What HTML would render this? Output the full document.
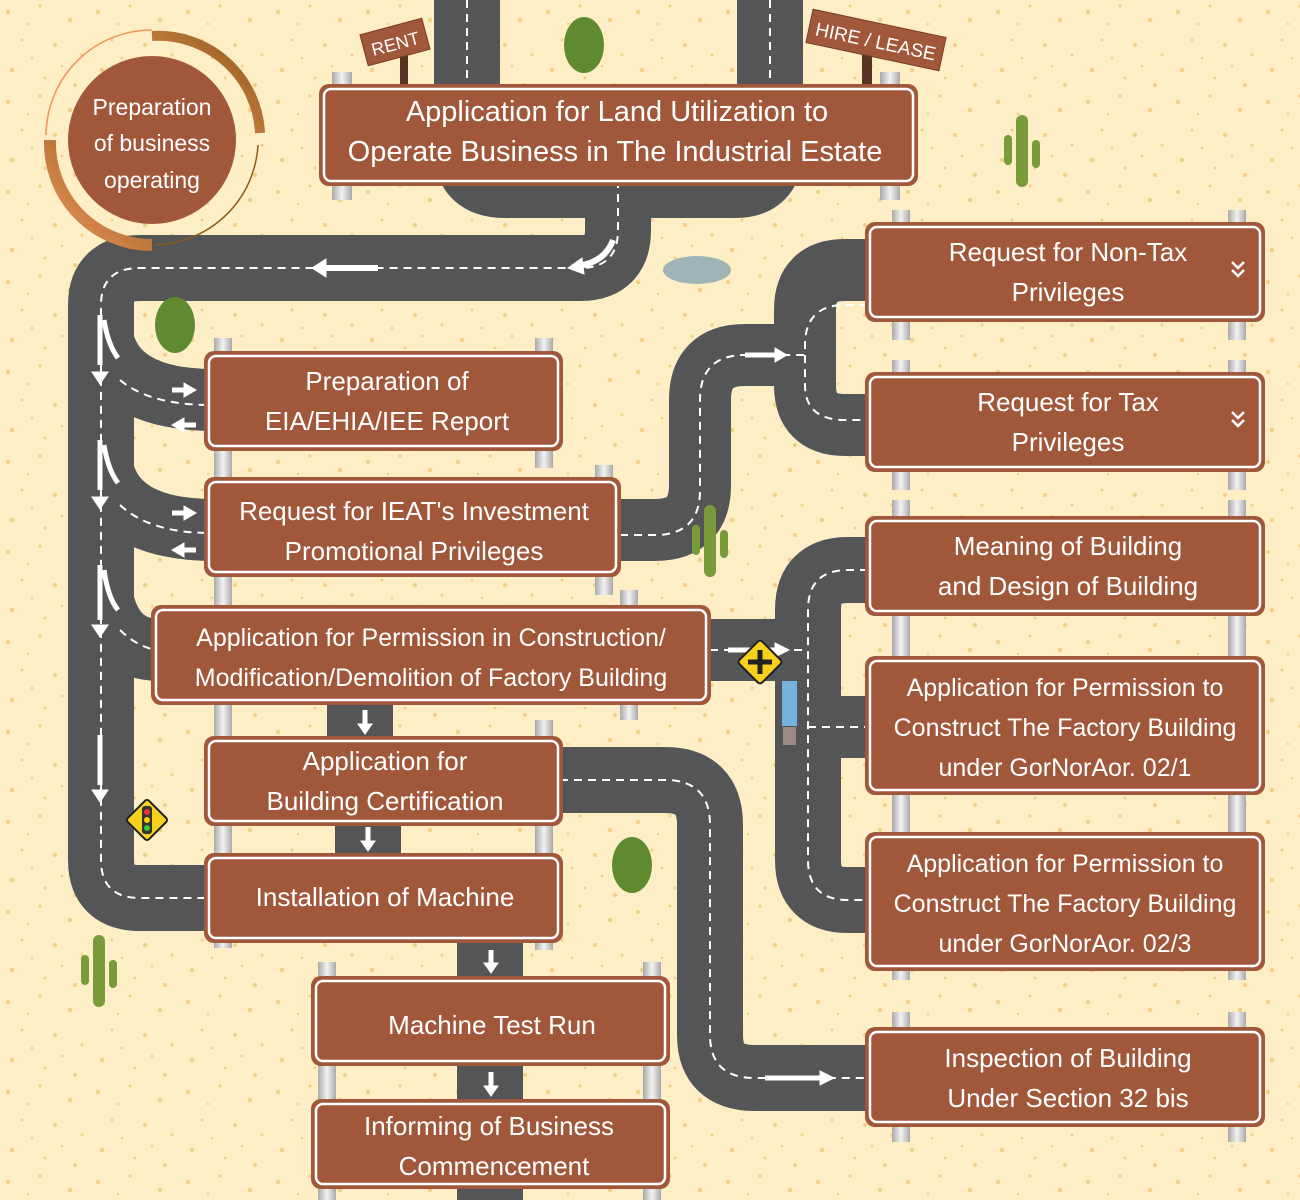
<!DOCTYPE html>
<html><head><meta charset="utf-8">
<style>
html,body{margin:0;padding:0;}
body{width:1300px;height:1200px;overflow:hidden;background:#fdeec6;}
svg{display:block;}
.t{font-family:"Liberation Sans",sans-serif;fill:#fff;text-anchor:middle;font-size:26px;}
</style></head><body>
<svg width="1300" height="1200" viewBox="0 0 1300 1200" xmlns="http://www.w3.org/2000/svg">
<defs>
<pattern id="sand" width="90" height="90" patternUnits="userSpaceOnUse">
<rect width="90" height="90" fill="#fdeec6"/>
<g fill="#f3cf85">
<circle cx="8" cy="12" r="2"/><circle cx="40" cy="6" r="1.6"/><circle cx="70" cy="20" r="2.2"/>
<circle cx="22" cy="40" r="1.5"/><circle cx="55" cy="45" r="2"/><circle cx="82" cy="55" r="1.6"/>
<circle cx="12" cy="70" r="2.2"/><circle cx="45" cy="78" r="1.5"/><circle cx="75" cy="85" r="2"/>
<circle cx="32" cy="58" r="1.3"/><circle cx="62" cy="66" r="1.3"/><circle cx="28" cy="24" r="1.2"/>
</g></pattern>
<linearGradient id="ring" x1="0" y1="1" x2="1" y2="0">
<stop offset="0" stop-color="#f0945a"/><stop offset="1" stop-color="#8a5a1a"/></linearGradient>
<linearGradient id="post" x1="0" x2="1"><stop offset="0" stop-color="#a9a9a9"/><stop offset="0.5" stop-color="#f2f2f2"/><stop offset="1" stop-color="#a9a9a9"/></linearGradient>
</defs>
<rect width="1300" height="1200" fill="url(#sand)"/>

<!-- roads -->
<g fill="none" stroke="#545557" stroke-linecap="butt" stroke-linejoin="round">
<path d="M467,0 V150 Q467,185 505,185 H735 Q770,185 770,150 V0" stroke-width="66"/>
<path d="M618,180 V230 Q618,268 580,268 H140 Q101,268 101,305 V860 Q101,898 140,898 H215" stroke-width="66"/>
<path d="M101,330 Q110,400 215,400" stroke-width="62"/>
<path d="M101,460 Q110,530 215,530" stroke-width="62"/>
<path d="M101,590 Q110,650 160,650" stroke-width="62"/>
<path d="M600,530 H655 Q700,530 700,485 V400 Q700,355 745,355 H805" stroke-width="62"/>
<path d="M875,270 H845 Q805,270 805,310 V385 Q805,425 845,425 H875" stroke-width="62"/>
<path d="M700,650 H810" stroke-width="62"/>
<path d="M875,570 H848 Q808,570 808,610 V860 Q808,900 848,900 H875" stroke-width="66"/>
<path d="M808,727 H875" stroke-width="62"/>
<path d="M360,700 V745" stroke-width="66"/>
<path d="M368,820 V860" stroke-width="66"/>
<path d="M555,780 H665 Q710,780 710,825 V1035 Q710,1078 755,1078 H875" stroke-width="66"/>
<path d="M490,935 V1200" stroke-width="66"/>
</g>
<!-- dashed lines -->
<g fill="none" stroke="#fff" stroke-width="2" stroke-dasharray="8,6">
<path d="M467,0 V80"/><path d="M770,0 V80"/>
<path d="M618,180 V230 Q618,268 580,268 H140 Q101,268 101,305 V860 Q101,898 140,898 H205"/>
<path d="M120,380 Q150,405 210,405"/><path d="M120,505 Q150,533 210,533"/><path d="M120,630 Q135,645 155,650"/>
<path d="M620,535 H655 Q700,535 700,490 V400 Q700,355 745,355 H805"/>
<path d="M868,305 H845 Q805,305 805,345 V385 Q805,420 845,420 H868"/>
<path d="M710,650 H808"/>
<path d="M868,570 H848 Q808,570 808,610 V860 Q808,900 848,900 H868"/>
<path d="M808,727 H868"/>
<path d="M560,780 H665 Q710,780 710,825 V1035 Q710,1078 755,1078 H868"/>
</g>
<!-- arrows -->
<g fill="#fff" stroke="#fff">
<path d="M378,268 H322" stroke-width="6"/><path d="M312,268 l14,-9 v18z"/>
<path d="M613,240 Q605,262 578,266" stroke-width="6" fill="none"/><path d="M568,268 l14,-10 l2,16z"/>
<g stroke-width="5">
<path d="M100,315 V365"/><path d="M100,440 V490"/><path d="M100,565 V620"/><path d="M100,735 V785"/>
<path d="M104,320 Q108,345 118,358" fill="none"/><path d="M104,445 Q108,470 118,483" fill="none"/><path d="M104,570 Q108,598 118,610" fill="none"/>
<path d="M172,390 H186"/><path d="M182,425 H196"/><path d="M172,513 H186"/><path d="M182,550 H196"/>
<path d="M745,355 H775"/><path d="M728,650 H775"/><path d="M365,710 V725"/><path d="M368,827 V842"/>
<path d="M491,950 V965"/><path d="M491,1072 V1088"/><path d="M765,1078 H820"/>
</g>
<path d="M92,372 h16 l-8,12z"/><path d="M92,497 h16 l-8,12z"/><path d="M92,625 h16 l-8,12z"/><path d="M92,790 h16 l-8,12z"/>
<path d="M184,383 l12,7 l-12,7z"/><path d="M184,418 l-12,7 l12,7z"/><path d="M184,506 l12,7 l-12,7z"/><path d="M184,543 l-12,7 l12,7z"/>
<path d="M775,348 l12,7 l-12,7z"/><path d="M775,643 l14,7 l-14,7z"/><path d="M358,724 h14 l-7,10z"/><path d="M361,841 h14 l-7,10z"/>
<path d="M484,963 h14 l-7,10z"/><path d="M484,1086 h14 l-7,10z"/><path d="M820,1071 l14,7 l-14,7z"/>
</g>
<!-- truck & signs -->
<rect x="782" y="681" width="15" height="45" fill="#74b3de"/><rect x="783" y="727" width="13" height="18" fill="#9a8b86"/>
<g transform="translate(760,662) rotate(45)"><rect x="-16" y="-16" width="32" height="32" rx="3" fill="#f7d11e" stroke="#222" stroke-width="2"/></g>
<path d="M760,650 v24 M748,662 h24" stroke="#222" stroke-width="5"/>
<g transform="translate(147,820) rotate(45)"><rect x="-15" y="-15" width="30" height="30" rx="3" fill="#f7d11e" stroke="#222" stroke-width="2"/></g>
<rect x="142" y="806" width="10" height="28" rx="3" fill="#333"/>
<circle cx="147" cy="812" r="3" fill="#e33"/><circle cx="147" cy="820" r="3" fill="#fc0"/><circle cx="147" cy="828" r="3" fill="#3c3"/>

<!-- cacti -->
<g fill="#7a9b3a">
<ellipse cx="584" cy="45" rx="20" ry="28" fill="#5f8a30"/>
<ellipse cx="175" cy="325" rx="20" ry="28" fill="#5f8a30"/>
<ellipse cx="632" cy="865" rx="20" ry="28" fill="#5f8a30"/>
<rect x="1016" y="115" width="12" height="72" rx="6"/><rect x="1004" y="135" width="8" height="30" rx="4"/><rect x="1032" y="140" width="8" height="28" rx="4"/>
<rect x="704" y="505" width="12" height="72" rx="6"/><rect x="692" y="525" width="8" height="30" rx="4"/><rect x="720" y="530" width="8" height="28" rx="4"/>
<rect x="93" y="935" width="12" height="72" rx="6"/><rect x="81" y="955" width="8" height="30" rx="4"/><rect x="109" y="960" width="8" height="28" rx="4"/>
</g>
<ellipse cx="697" cy="270" rx="34" ry="14" fill="#9fb5b5"/>

<!-- wooden rent signs -->
<rect x="400" y="40" width="8" height="48" fill="#5a3422"/>
<g transform="translate(395,42) rotate(-15)"><rect x="-32" y="-16" width="64" height="32" fill="#a0573a" stroke="#7a3e26"/><text x="0" y="8" class="t" style="font-size:18px">RENT</text></g>
<rect x="862" y="40" width="10" height="48" fill="#5a3422"/>
<g transform="translate(876,40) rotate(12)"><rect x="-68" y="-17" width="136" height="34" fill="#a0573a" stroke="#7a3e26"/><text x="0" y="8" class="t" style="font-size:19px">HIRE / LEASE</text></g>

<!-- circle -->
<path d="M50,140 A102,102 0 0 0 152,245" fill="none" stroke="url(#ring)" stroke-width="12"/>
<path d="M152,36 A102,102 0 0 1 260,133" fill="none" stroke="url(#ring)" stroke-width="10"/>
<path d="M46,135 A106,106 0 0 1 152,30" fill="none" stroke="#f0945a" stroke-width="1.5"/>
<path d="M258,145 A106,106 0 0 1 155,245" fill="none" stroke="#8a5a1a" stroke-width="1.5"/>
<circle cx="152" cy="140" r="84" fill="#a0573a"/>
<text class="t" style="font-size:23px"><tspan x="152" y="115">Preparation</tspan><tspan x="152" y="151">of business</tspan><tspan x="152" y="188">operating</tspan></text>

<!-- posts -->
<g fill="url(#post)">
<rect x="332" y="72" width="20" height="128"/><rect x="880" y="72" width="20" height="128"/>
<rect x="892" y="210" width="18" height="130"/><rect x="1228" y="210" width="18" height="130"/>
<rect x="892" y="360" width="18" height="130"/><rect x="1228" y="360" width="18" height="130"/>
<rect x="892" y="500" width="18" height="480"/><rect x="1228" y="500" width="18" height="480"/>
<rect x="892" y="1012" width="18" height="130"/><rect x="1228" y="1012" width="18" height="130"/>
<rect x="214" y="338" width="18" height="610"/><rect x="535" y="338" width="18" height="130"/><rect x="595" y="465" width="18" height="130"/>
<rect x="620" y="590" width="18" height="130"/><rect x="535" y="720" width="18" height="230"/>
<rect x="318" y="962" width="18" height="238"/><rect x="643" y="962" width="18" height="238"/>
</g>

<!-- signs -->
<g fill="#a0573a" stroke="#fff" stroke-width="3">
<rect x="320" y="85" width="597" height="100" rx="9" stroke="#a0573a" stroke-width="0"/>
</g>
<g id="signs">
<g fill="#a0573a">
<rect x="319" y="84" width="599" height="102" rx="10"/>
<rect x="865" y="222" width="400" height="100" rx="10"/>
<rect x="865" y="372" width="400" height="100" rx="10"/>
<rect x="204" y="351" width="359" height="100" rx="10"/>
<rect x="204" y="477" width="417" height="100" rx="10"/>
<rect x="151" y="605" width="560" height="100" rx="10"/>
<rect x="865" y="516" width="400" height="100" rx="10"/>
<rect x="865" y="656" width="400" height="139" rx="10"/>
<rect x="865" y="832" width="400" height="139" rx="10"/>
<rect x="204" y="736" width="359" height="90" rx="10"/>
<rect x="204" y="853" width="359" height="90" rx="10"/>
<rect x="311" y="976" width="359" height="90" rx="10"/>
<rect x="311" y="1099" width="359" height="90" rx="10"/>
<rect x="865" y="1027" width="400" height="100" rx="10"/>
</g>
<g fill="none" stroke="#fff" stroke-width="2.5">
<rect x="324" y="89" width="589" height="92" rx="7"/>
<rect x="870" y="227" width="390" height="90" rx="7"/>
<rect x="870" y="377" width="390" height="90" rx="7"/>
<rect x="209" y="356" width="349" height="90" rx="7"/>
<rect x="209" y="482" width="407" height="90" rx="7"/>
<rect x="156" y="610" width="550" height="90" rx="7"/>
<rect x="870" y="521" width="390" height="90" rx="7"/>
<rect x="870" y="661" width="390" height="129" rx="7"/>
<rect x="870" y="837" width="390" height="129" rx="7"/>
<rect x="209" y="741" width="349" height="80" rx="7"/>
<rect x="209" y="858" width="349" height="80" rx="7"/>
<rect x="316" y="981" width="349" height="80" rx="7"/>
<rect x="316" y="1104" width="349" height="80" rx="7"/>
<rect x="870" y="1032" width="390" height="90" rx="7"/>
</g>
</g>
<g fill="none" stroke="#fff" stroke-width="2.5">
<path d="M1232,262 l6,6 l6,-6 M1232,270 l6,6 l6,-6"/>
<path d="M1232,412 l6,6 l6,-6 M1232,420 l6,6 l6,-6"/>
</g>

<!-- text -->
<text class="t" style="font-size:29px"><tspan x="617" y="121">Application for Land Utilization to</tspan><tspan x="615" y="161">Operate Business in The Industrial Estate</tspan></text>
<text class="t"><tspan x="1068" y="261">Request for Non-Tax</tspan><tspan x="1068" y="301">Privileges</tspan></text>
<text class="t"><tspan x="1068" y="411">Request for Tax</tspan><tspan x="1068" y="451">Privileges</tspan></text>
<text class="t"><tspan x="387" y="390">Preparation of</tspan><tspan x="387" y="430">EIA/EHIA/IEE Report</tspan></text>
<text class="t"><tspan x="414" y="520">Request for IEAT's Investment</tspan><tspan x="414" y="560">Promotional Privileges</tspan></text>
<text class="t" style="font-size:25px"><tspan x="431" y="646">Application for Permission in Construction/</tspan><tspan x="431" y="686">Modification/Demolition of Factory Building</tspan></text>
<text class="t"><tspan x="1068" y="555">Meaning of Building</tspan><tspan x="1068" y="595">and Design of Building</tspan></text>
<text class="t" style="font-size:25px"><tspan x="1065" y="696">Application for Permission to</tspan><tspan x="1065" y="736">Construct The Factory Building</tspan><tspan x="1065" y="776">under GorNorAor. 02/1</tspan></text>
<text class="t" style="font-size:25px"><tspan x="1065" y="872">Application for Permission to</tspan><tspan x="1065" y="912">Construct The Factory Building</tspan><tspan x="1065" y="952">under GorNorAor. 02/3</tspan></text>
<text class="t"><tspan x="385" y="770">Application for</tspan><tspan x="385" y="810">Building Certification</tspan></text>
<text class="t" x="385" y="906">Installation of Machine</text>
<text class="t" x="492" y="1034">Machine Test Run</text>
<text class="t"><tspan x="489" y="1135">Informing of Business</tspan><tspan x="494" y="1175">Commencement</tspan></text>
<text class="t"><tspan x="1068" y="1067">Inspection of Building</tspan><tspan x="1068" y="1107">Under Section 32 bis</tspan></text>
</svg>
</body></html>
